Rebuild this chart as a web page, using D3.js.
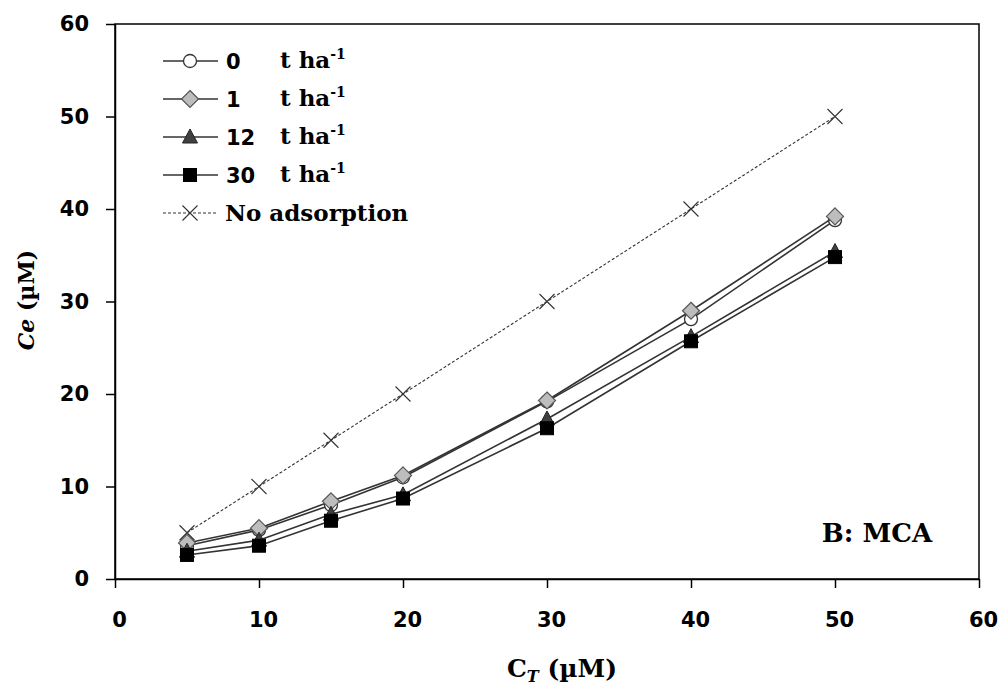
<!DOCTYPE html>
<html>
<head>
<meta charset="utf-8">
<script src="https://cdn.jsdelivr.net/npm/d3@7"></script>
<style>
html,body{margin:0;padding:0;background:#fff;}
svg{display:block;}
</style>
</head>
<body>
<svg id="chart" width="999" height="685"></svg>
<script>
const xValues = [5, 10, 15, 20, 30, 40, 50];
const rate0 = [3.6, 5.3, 8.0, 11.0, 19.2, 28.1, 38.8];
const rate1 = [3.9, 5.5, 8.4, 11.2, 19.3, 29.0, 39.2];
const rate12 = [3.0, 4.2, 7.0, 9.1, 17.3, 26.2, 35.4];
const rate30 = [2.6, 3.6, 6.3, 8.7, 16.3, 25.7, 34.8];
const noAdsorption = [5, 10, 15, 20, 30, 40, 50];
const seriesNames = ["0", "1", "12", "30", "No adsorption"];
const xTicks = [0, 10, 20, 30, 40, 50, 60];
const yTicks = [0, 10, 20, 30, 40, 50, 60];

const svg = d3.select("#chart");
const L = 115, R = 979, T = 24, B = 579;
const x = d3.scaleLinear().domain([0, 60]).range([L, R]);
const y = d3.scaleLinear().domain([0, 60]).range([B, T]);

const numFont = "'DejaVu Sans', Verdana, sans-serif";
const serifFont = "'DejaVu Serif', 'Liberation Serif', serif";

// frame
svg.append("rect").attr("x", L).attr("y", T).attr("width", R - L).attr("height", B - T)
  .attr("fill", "none").attr("stroke", "#000").attr("stroke-width", 1.5);

// axes
const xAxis = svg.append("g").attr("transform", `translate(0,${B})`)
  .call(d3.axisBottom(x).tickValues(xTicks).tickSize(9).tickPadding(24).tickSizeOuter(0));
const yAxis = svg.append("g").attr("transform", `translate(${L},0)`)
  .call(d3.axisLeft(y).tickValues(yTicks).tickSize(9).tickPadding(17).tickSizeOuter(0));
[xAxis, yAxis].forEach(g => {
  g.select(".domain").attr("stroke", "#000").attr("stroke-width", 1.5);
  g.selectAll(".tick line").attr("stroke", "#000").attr("stroke-width", 1.5);
  g.selectAll(".tick text").attr("fill", "#000").style("font-family", numFont)
    .style("font-weight", "bold").style("font-size", "21px");
});
xAxis.selectAll(".tick text").attr("dx", 4);

const line = d3.line().x((d, i) => x(xValues[i])).y(d => y(d));

const series = [
  {name: seriesNames[0], data: rate0, marker: "circle"},
  {name: seriesNames[1], data: rate1, marker: "diamond"},
  {name: seriesNames[2], data: rate12, marker: "triangle"},
  {name: seriesNames[3], data: rate30, marker: "square"},
  {name: seriesNames[4], data: noAdsorption, marker: "x"}
];

function drawMarker(g, type, cx, cy) {
  if (type === "circle") {
    g.append("circle").attr("cx", cx).attr("cy", cy).attr("r", 6.5)
      .attr("fill", "#fff").attr("stroke", "#333").attr("stroke-width", 1.3);
  } else if (type === "diamond") {
    const s = 8.5;
    g.append("path").attr("d", `M${cx},${cy - s}L${cx + s},${cy}L${cx},${cy + s}L${cx - s},${cy}Z`)
      .attr("fill", "#bdbdbd").attr("stroke", "#555").attr("stroke-width", 1.2);
  } else if (type === "triangle") {
    g.append("path").attr("d", `M${cx},${cy - 8}L${cx + 7.5},${cy + 6}L${cx - 7.5},${cy + 6}Z`)
      .attr("fill", "#404040").attr("stroke", "#222").attr("stroke-width", 1);
  } else if (type === "square") {
    g.append("rect").attr("x", cx - 6.5).attr("y", cy - 6.5).attr("width", 13).attr("height", 13)
      .attr("fill", "#000").attr("stroke", "#000").attr("stroke-width", 1);
  } else if (type === "x") {
    const s = 7.5;
    g.append("path").attr("d", `M${cx - s},${cy - s}L${cx + s},${cy + s}M${cx - s},${cy + s}L${cx + s},${cy - s}`)
      .attr("stroke", "#333").attr("stroke-width", 1.1).attr("fill", "none");
  }
}

series.forEach(s => {
  const g = svg.append("g");
  g.append("path").datum(s.data).attr("d", line).attr("fill", "none")
    .attr("stroke", "#333").attr("stroke-width", s.marker === "x" ? 1.1 : 1.6)
    .attr("stroke-dasharray", s.marker === "x" ? "3,2" : null);
  s.data.forEach((v, i) => drawMarker(g, s.marker, x(xValues[i]), y(v)));
});

// legend
const legendRows = [61, 99, 137, 175, 213];
series.forEach((s, i) => {
  const g = svg.append("g");
  const ly = legendRows[i];
  g.append("line").attr("x1", 163).attr("x2", 218).attr("y1", ly).attr("y2", ly)
    .attr("stroke", "#333").attr("stroke-width", s.marker === "x" ? 1.1 : 1.6)
    .attr("stroke-dasharray", s.marker === "x" ? "3,2" : null);
  drawMarker(g, s.marker, 190, ly);
  if (s.marker === "x") {
    g.append("text").attr("x", 225).attr("y", ly + 8).text(s.name)
      .style("font-family", serifFont).style("font-weight", "bold").style("font-size", "23px");
  } else {
    g.append("text").attr("x", 226).attr("y", ly + 8).text(s.name)
      .style("font-family", numFont).style("font-weight", "bold").style("font-size", "21px");
    const t = g.append("text").attr("x", 280).attr("y", ly + 7)
      .style("font-family", serifFont).style("font-weight", "bold").style("font-size", "23px");
    t.append("tspan").text("t ha");
    t.append("tspan").attr("dy", -9).style("font-size", "14px").text("-1");
  }
});

// axis titles
const yt = svg.append("text").attr("transform", "translate(34,300) rotate(-90)")
  .attr("text-anchor", "middle")
  .style("font-family", serifFont).style("font-weight", "bold").style("font-size", "22px");
yt.append("tspan").style("font-style", "italic").text("Ce");
yt.append("tspan").text(" (µM)");

const xt = svg.append("text").attr("x", 562).attr("y", 677).attr("text-anchor", "middle")
  .style("font-family", serifFont).style("font-weight", "bold").style("font-size", "25px");
xt.append("tspan").text("C");
xt.append("tspan").attr("dy", 5).style("font-size", "16px").style("font-style", "italic").text("T");
xt.append("tspan").attr("dy", -5).text(" (µM)");

svg.append("text").attr("x", 877).attr("y", 542).attr("text-anchor", "middle")
  .style("font-family", serifFont).style("font-weight", "bold").style("font-size", "26px")
  .text("B: MCA");
</script>
</body>
</html>
